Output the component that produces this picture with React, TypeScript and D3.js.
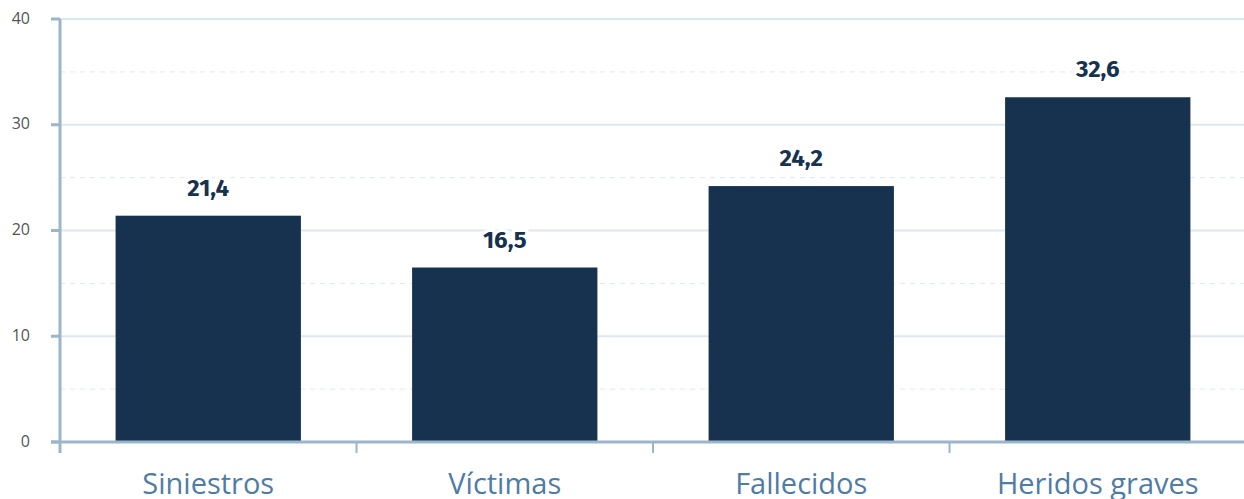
import React from "react";
import * as d3 from "d3";

const categories = ["Siniestros", "Víctimas", "Fallecidos", "Heridos graves"];
const values = [21.4, 16.5, 24.2, 32.6];
const majorTicks = [0, 10, 20, 30, 40];
const minorTicks = [5, 15, 25, 35];

const W = 1244;
const H = 499;

export default function App() {
  const x = d3.scaleBand<string>().domain(categories).range([60, 1246]).paddingInner(0).paddingOuter(0);
  const y = d3.scaleLinear().domain([0, 40]).range([442, 19]);
  const step = x.bandwidth();
  const barW = step * 0.625;
  const fmt = (v: number) => v.toFixed(1).replace(".", ",");
  const axisColor = "#9bb6cb";
  return (
    <svg width={W} height={H} style={{ position: "absolute", left: 0, top: 0, display: "block" }}>
      <rect width={W} height={H} fill="#fff" />
      {minorTicks.map((t) => (
        <line key={"m" + t} x1={60} x2={W} y1={y(t)} y2={y(t)} stroke="#dfe8f2" strokeWidth={1} strokeDasharray="5,5" />
      ))}
      {majorTicks.map((t) => (
        <line key={"g" + t} x1={60} x2={W} y1={y(t)} y2={y(t)} stroke="#dde7f2" strokeWidth={2} />
      ))}
      {categories.map((c, i) => (
        <rect key={c} x={x(c)! + (step - barW) / 2} y={y(values[i])} width={barW} height={y(0) - y(values[i])} fill="#17324f" />
      ))}
      {categories.map((c, i) => (
        <text
          key={"v" + c}
          x={x(c)! + step / 2}
          y={y(values[i]) - 20}
          textAnchor="middle"
          fontFamily="'Fira Sans', 'Open Sans', sans-serif"
          fontWeight={700}
          fontSize={24}
          fill="#17324f"
          stroke="#fff"
          strokeWidth={6}
          paintOrder="stroke"
        >
          {fmt(values[i])}
        </text>
      ))}
      <line x1={51} x2={W} y1={y(0)} y2={y(0)} stroke={axisColor} strokeWidth={3} />
      <line x1={60} x2={60} y1={y(40)} y2={453} stroke={axisColor} strokeWidth={3} />
      {majorTicks.map((t) => (
        <g key={"t" + t}>
          <line x1={51} x2={60} y1={y(t)} y2={y(t)} stroke={axisColor} strokeWidth={3} />
          <text x={30} y={y(t) - 1} dy="0.35em" textAnchor="end" fontFamily="'Open Sans', sans-serif" fontSize={16} fill="#555">
            {t}
          </text>
        </g>
      ))}
      {categories.map((c) => (
        <line key={"bt" + c} x1={x(c)!} x2={x(c)!} y1={y(0)} y2={453} stroke={axisColor} strokeWidth={2} />
      ))}
      {categories.map((c) => (
        <text
          key={"c" + c}
          x={x(c)! + step / 2}
          y={494}
          textAnchor="middle"
          fontFamily="'Open Sans', sans-serif"
          fontSize={29}
          fill="#4f7ca6"
        >
          {c}
        </text>
      ))}
    </svg>
  );
}
